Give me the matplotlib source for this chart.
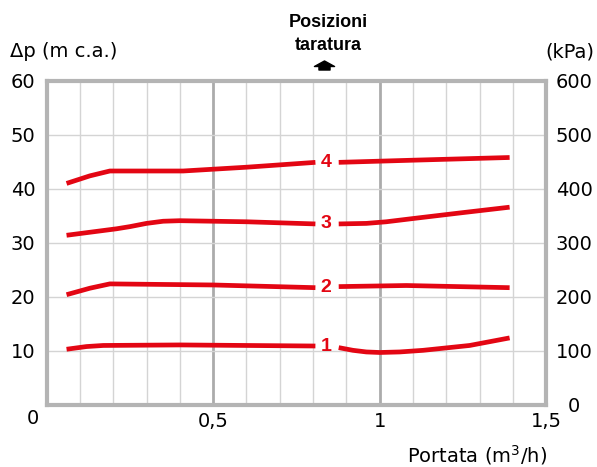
import numpy as np
import matplotlib
matplotlib.use('Agg')
from matplotlib import pyplot as plt
from matplotlib.ticker import MultipleLocator
from matplotlib.path import Path

plt.rcParams['font.family'] = ['DejaVu Sans']

# curve data (flow m3/h, dp m c.a.)
x1 = [0.06, 0.12, 0.17, 0.40, 0.60, 0.807]
y1 = [10.3, 10.8, 11.0, 11.1, 11.0, 10.9]
x1b = [0.877, 0.92, 0.96, 1.00, 1.06, 1.13, 1.27, 1.39]
y1b = [10.6, 10.1, 9.8, 9.7, 9.8, 10.1, 11.0, 12.4]

x2 = [0.06, 0.13, 0.19, 0.50, 0.807]
y2 = [20.4, 21.6, 22.4, 22.2, 21.7]
x2b = [0.877, 1.08, 1.39]
y2b = [21.9, 22.1, 21.7]

x3 = [0.06, 0.21, 0.25, 0.30, 0.35, 0.40, 0.60, 0.807]
y3 = [31.4, 32.6, 33.0, 33.6, 34.0, 34.1, 33.9, 33.5]
x3b = [0.877, 0.96, 1.02, 1.10, 1.25, 1.39]
y3b = [33.5, 33.6, 33.9, 34.5, 35.6, 36.6]

x4 = [0.06, 0.13, 0.19, 0.41, 0.60, 0.807]
y4 = [41.0, 42.4, 43.3, 43.3, 44.0, 44.9]
x4b = [0.877, 1.10, 1.39]
y4b = [44.9, 45.3, 45.8]

labels = ['1', '2', '3', '4']
label_x = 0.838
label_y = [10.8, 21.8, 33.5, 44.9]

red = '#e30613'
fs = 14

fig = plt.figure(figsize=(5.97, 4.67), dpi=100)
ax = fig.add_axes([0.078, 0.133, 0.837, 0.694])

for xs, ys in [(x1, y1), (x1b, y1b), (x2, y2), (x2b, y2b),
               (x3, y3), (x3b, y3b), (x4, y4), (x4b, y4b)]:
    ax.plot(xs, ys, color=red, lw=3.4, solid_capstyle='butt',
            solid_joinstyle='round', zorder=3)

for lab, ly in zip(labels, label_y):
    ax.text(label_x, ly, lab, color=red, fontsize=14, fontweight='bold',
            family='Liberation Sans', ha='center', va='center', zorder=4)

ax.set_xlim(0, 1.5)
ax.set_ylim(0, 60)

# grid
ax.xaxis.set_minor_locator(MultipleLocator(0.1))
ax.yaxis.set_major_locator(MultipleLocator(10))
ax.grid(which='minor', axis='x', color='#d4d4d4', lw=1.0)
ax.grid(which='major', axis='x', color='#ababab', lw=2.0)
ax.grid(which='major', axis='y', color='#d4d4d4', lw=1.0)
ax.set_axisbelow(True)

for s in ax.spines.values():
    s.set_color('#b4b4b4')
    s.set_linewidth(3)

ax.tick_params(which='both', length=0)
ax.set_yticks([10, 20, 30, 40, 50, 60])
ax.set_yticklabels(['10', '20', '30', '40', '50', '60'], fontsize=fs)
ax.tick_params(axis='y', pad=8)
ax.set_xticks([0.5, 1.0, 1.5])
ax.set_xticklabels(['0,5', '1', '1,5'], fontsize=fs)
ax.tick_params(axis='x', pad=5)
ax.text(-0.04, -0.041, '0', transform=ax.get_xaxis_transform(),
        ha='center', va='center', fontsize=fs)

ax2 = ax.twinx()
ax2.set_ylim(0, 600)
ax2.set_yticks([0, 100, 200, 300, 400, 500, 600])
ax2.set_yticklabels(['0', '100', '200', '300', '400', '500', '600'], fontsize=fs,
                    ha='center')
ax2.tick_params(length=0, pad=20)
for s in ax2.spines.values():
    s.set_visible(False)

fig.text(0.017, 0.889, '\u0394p (m c.a.)', fontsize=fs, ha='left', va='center')
fig.text(0.914, 0.889, '(kPa)', fontsize=fs, ha='left', va='center')
fig.text(0.917, 0.026, 'Portata (m$^3$/h)', fontsize=fs, ha='right', va='center')

fig.text(0.55, 0.951, 'Posizioni', ha='center', va='center',
         fontsize=13, fontweight='bold', family='Liberation Sans')
fig.text(0.55, 0.902, 'taratura', ha='center', va='center',
         fontsize=13, fontweight='bold', family='Liberation Sans')

house = Path([(-1, 0), (0, 0.55), (1, 0), (0.55, 0), (0.55, -0.35),
              (-0.55, -0.35), (-0.55, 0), (-1, 0)], closed=True)
ax.plot([0.832], [62.7], marker=house, color='black', markersize=14.5,
        clip_on=False, lw=0)

fig.savefig('out.png', dpi=100)
